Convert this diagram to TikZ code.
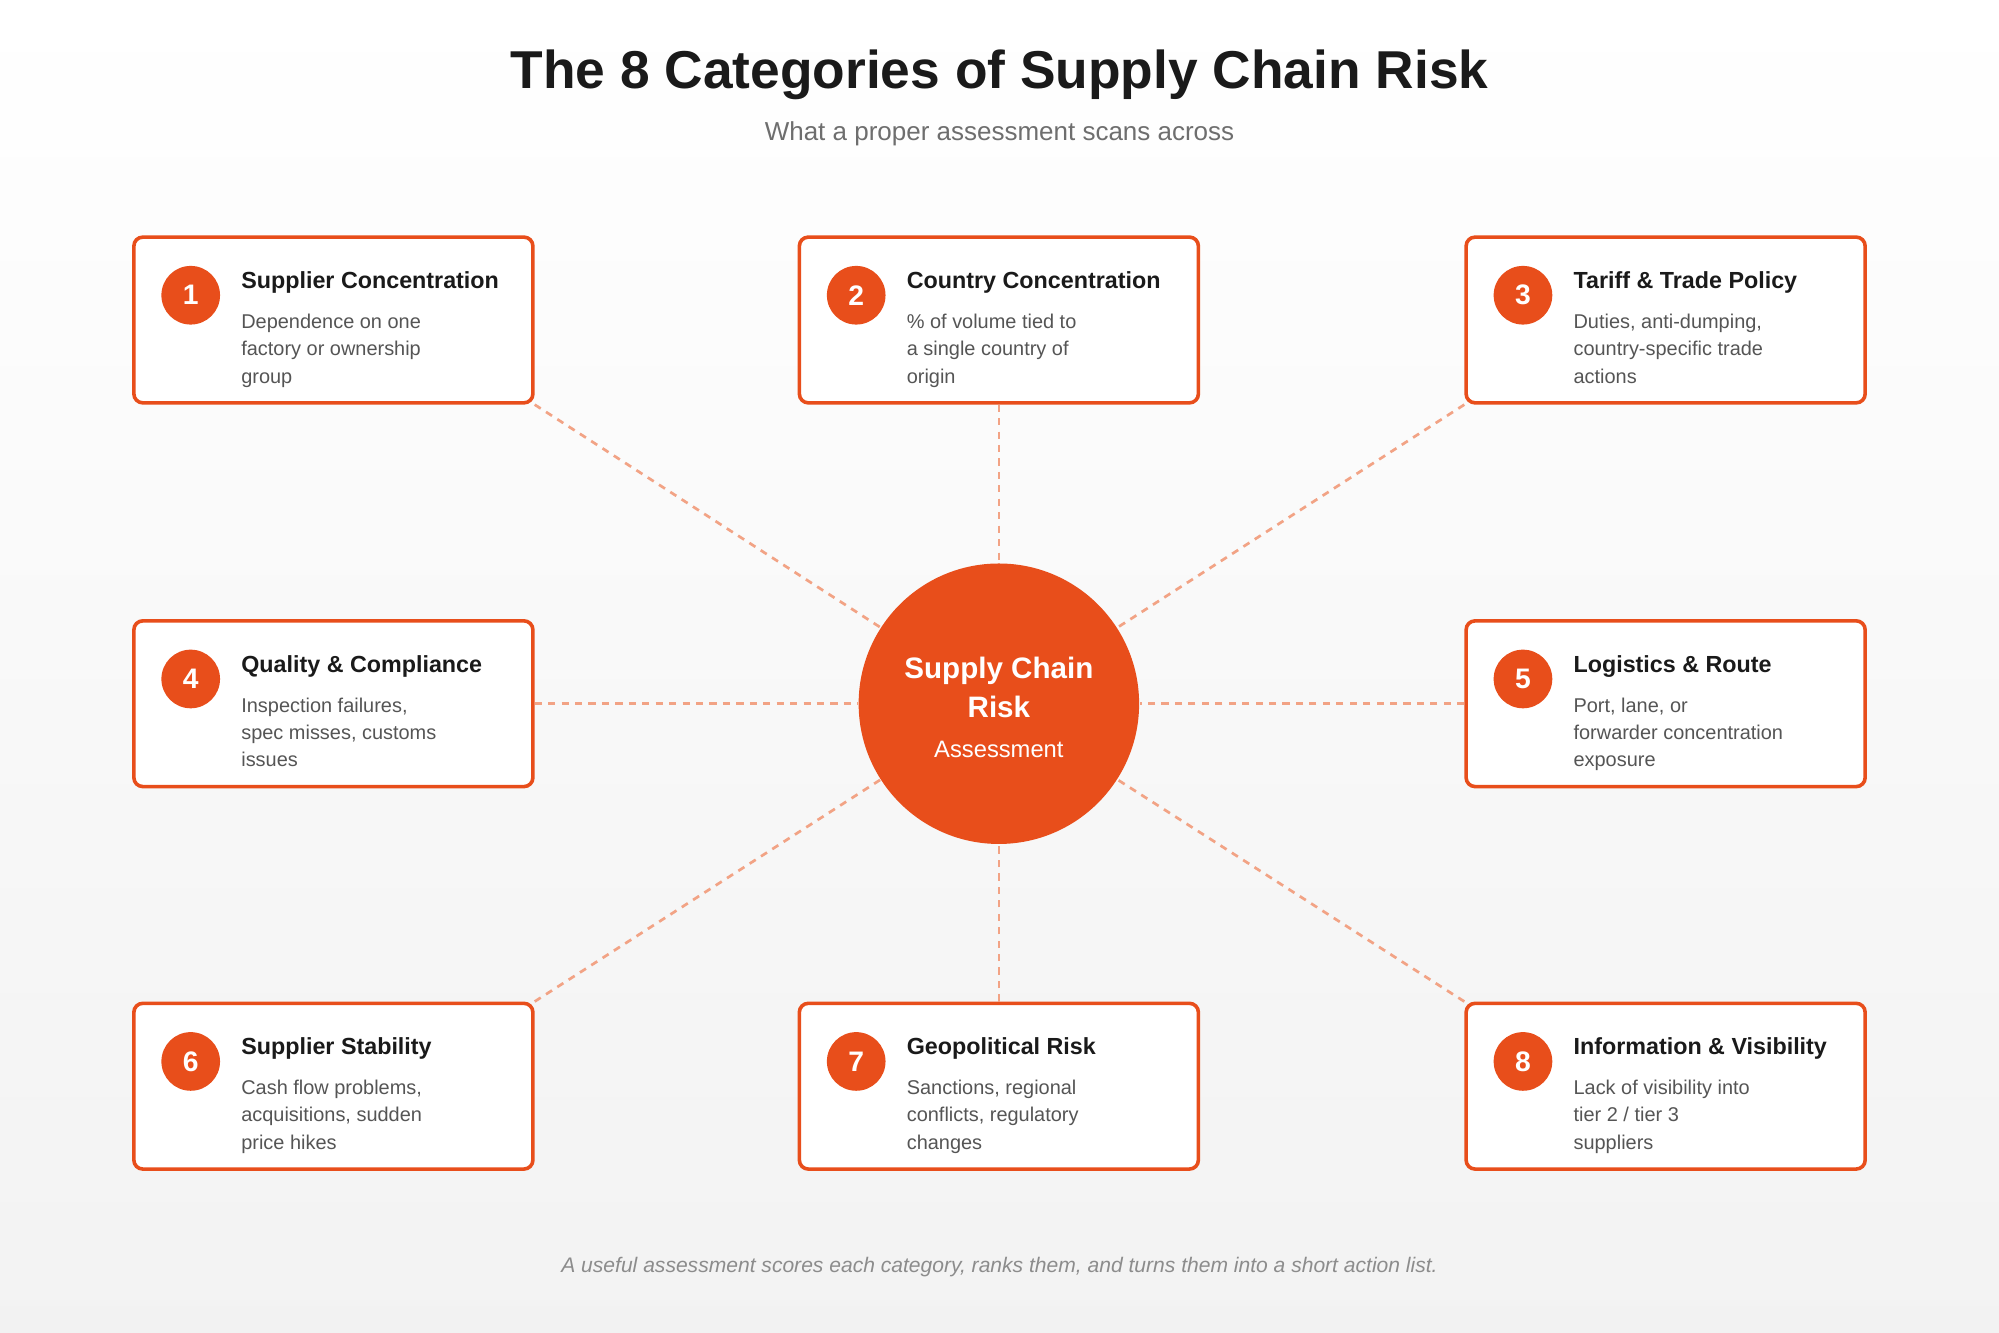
\documentclass[tikz,border=0pt]{standalone}
\usepackage{fontspec}
\setmainfont{Liberation Sans}
\definecolor{riskorange}{HTML}{E84E1B}
\definecolor{linkorange}{HTML}{F2A385}
\definecolor{titlegray}{HTML}{1A1A1A}
\definecolor{descgray}{HTML}{555555}
\tikzset{
  riskbox/.style={draw=riskorange, line width=0.8pt, rounded corners=2pt, fill=white,
    minimum width=3.13cm, minimum height=1.30cm},
  badge/.style={circle, fill=riskorange, minimum size=0.46cm, inner sep=0pt,
    text=white, font=\fontsize{6.3}{7}\selectfont\bfseries},
  boxtitle/.style={anchor=west, inner sep=0pt, text=titlegray, font=\fontsize{5.2}{6}\selectfont\bfseries},
  boxdesc/.style={anchor=north west, inner sep=0pt, align=left, text=descgray,
    font=\fontsize{4.45}{6.1}\selectfont},
  link/.style={draw=linkorange, dashed, line width=0.6pt, dash pattern=on 1.6pt off 1.4pt}
}
\begin{document}
\begin{tikzpicture}
\shade[top color=white, bottom color=black!5] (0,0) rectangle (15.68,10.45);
\useasboundingbox (0,0) rectangle (15.68,10.45);

\node[text=titlegray, font=\fontsize{11.9}{14}\selectfont\bfseries] (title) at (7.84,9.86) {The 8 Categories of Supply Chain Risk};
\node[text=descgray!85, font=\fontsize{5.8}{7}\selectfont] (subtitle) at (7.84,9.40) {What a proper assessment scans across};

\node[circle, fill=riskorange, minimum size=2.2cm, inner sep=0pt] (hub) at (7.835,4.93) {};
\node[text=white, align=center, font=\fontsize{6.6}{8.8}\selectfont\bfseries] (hubtitle) at (7.835,5.06) {Supply Chain\\Risk};
\node[text=white, font=\fontsize{5.3}{6}\selectfont] (hubsub) at (7.835,4.57) {Assessment};

\foreach \n/\x/\y/\t/\d in {
  1/2.615/7.94/{Supplier Concentration}/{Dependence on one\\factory or ownership\\group},
  2/7.835/7.94/{Country Concentration}/{\% of volume tied to\\a single country of\\origin},
  3/13.065/7.94/{Tariff \& Trade Policy}/{Duties, anti-dumping,\\country-specific trade\\actions},
  4/2.615/4.93/{Quality \& Compliance}/{Inspection failures,\\spec misses, customs\\issues},
  5/13.065/4.93/{Logistics \& Route}/{Port, lane, or\\forwarder concentration\\exposure},
  6/2.615/1.93/{Supplier Stability}/{Cash flow problems,\\acquisitions, sudden\\price hikes},
  7/7.835/1.93/{Geopolitical Risk}/{Sanctions, regional\\conflicts, regulatory\\changes},
  8/13.065/1.93/{Information \& Visibility}/{Lack of visibility into\\tier 2 / tier 3\\suppliers}}
{
  \node[riskbox] (b\n) at (\x,\y) {};
  \node[badge] (n\n) at ([xshift=0.46cm, yshift=-0.47cm]b\n.north west) {\n};
  \node[boxtitle] (t\n) at ([xshift=0.85cm, yshift=-0.37cm]b\n.north west) {\t};
  \node[boxdesc] (d\n) at ([xshift=0.85cm, yshift=-0.61cm]b\n.north west) {\d};
}

\draw[link] (b1.south east) -- (hub);
\draw[link] (b2.south) -- (hub);
\draw[link] (b3.south west) -- (hub);
\draw[link] (b4.east) -- (hub);
\draw[link] (b5.west) -- (hub);
\draw[link] (b6.north east) -- (hub);
\draw[link] (b7.north) -- (hub);
\draw[link] (b8.north west) -- (hub);

\node[text=black!45, font=\fontsize{4.7}{6}\selectfont\itshape] (footer) at (7.84,0.51) {A useful assessment scores each category, ranks them, and turns them into a short action list.};
\end{tikzpicture}
\end{document}
